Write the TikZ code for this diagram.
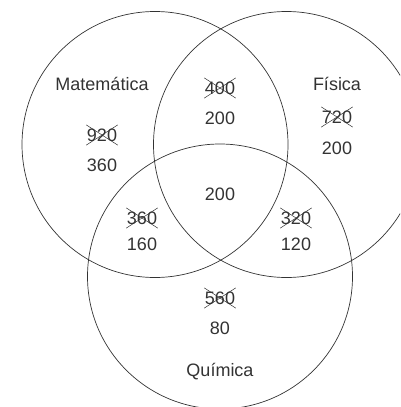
\documentclass[tikz,border=0pt]{standalone}
\usepackage{fontspec}
\setmainfont{Liberation Sans}
\usetikzlibrary{shapes.misc}

\tikzset{
  conj/.style={draw=black!80, line width=0.7},
  rotulo/.style={text=black!80, font=\fontsize{18}{20}\selectfont, inner sep=0pt},
  riscado/.style={rotulo, cross out, draw=black!80, line width=0.5, inner xsep=0.5pt, inner ysep=3.5pt}
}

\begin{document}
\begin{tikzpicture}[x=1pt,y=1pt,yscale=-1,xscale=1]
\clip (0,0) rectangle (400,407);

%Shape: Circle [Matematica]
\draw [conj] (155,144.5) circle (133);
%Shape: Circle [Fisica]
\draw [conj] (286.5,144.5) circle (133);
%Shape: Circle [Quimica]
\draw [conj] (220,276.5) circle (132.5);

%Text: names
\node [rotulo] (nMat) at (102,84) {Matemática};
\node [rotulo] (nFis) at (337,84) {Física};
\node [rotulo] (nQui) at (220,372) {Química};

%Text: old values (crossed out)
\node [riscado] (vMatOld) at (102,135) {920};
\node [riscado] (vMFOld) at (220,88) {400};
\node [riscado] (vFisOld) at (337,117) {720};
\node [riscado] (vMQOld) at (142,218) {360};
\node [riscado] (vFQOld) at (296,218) {320};
\node [riscado] (vQuiOld) at (220,298) {560};

%Text: new values
\node [rotulo] (vMat) at (102,165) {360};
\node [rotulo] (vMF) at (220,118) {200};
\node [rotulo] (vFis) at (337,148) {200};
\node [rotulo] (vMFQ) at (220,194) {200};
\node [rotulo] (vMQ) at (142,244) {160};
\node [rotulo] (vFQ) at (296,244) {120};
\node [rotulo] (vQui) at (220,328) {80};

\end{tikzpicture}
\end{document}
